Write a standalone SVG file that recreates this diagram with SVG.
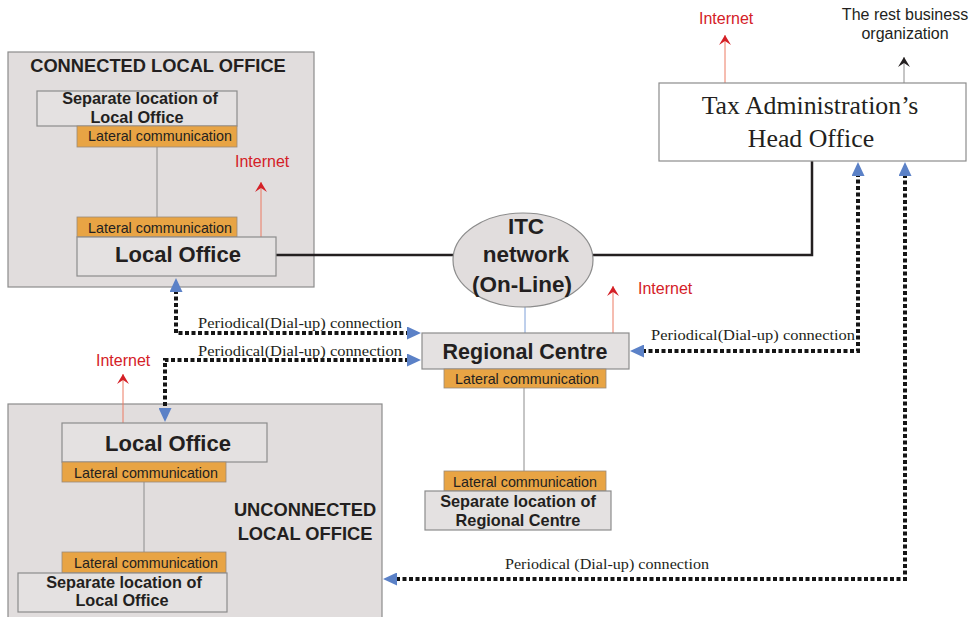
<svg xmlns="http://www.w3.org/2000/svg" width="975" height="617" viewBox="0 0 975 617">
<style>
.bg{fill:#e1dddd;stroke:#8c8c8c;stroke-width:1.2}
.box{fill:#e4e1e1;stroke:#8c8c8c;stroke-width:1.2}
.wbox{fill:#ffffff;stroke:#8c8c8c;stroke-width:1.2}
.lat{fill:#e8a444;stroke:#9a8a7a;stroke-width:0.8}
.latt{font-family:"Liberation Sans",Arial,sans-serif;font-size:14.3px;fill:#231f20;text-anchor:middle}
.bt{font-family:"Liberation Sans",Arial,sans-serif;font-weight:bold;fill:#231f20;text-anchor:middle}
.red{font-family:"Liberation Sans",Arial,sans-serif;font-size:16px;fill:#d42027}
.ser{font-family:"Liberation Serif","Times New Roman",serif;fill:#231f20}
.dash{fill:none;stroke:#151515;stroke-width:4;stroke-dasharray:4 2.5;marker-start:url(#blue);marker-end:url(#blue)}
.rl{fill:none;stroke:#ec7a62;stroke-width:1;marker-end:url(#redarr)}
.gl{fill:none;stroke:#8c8c8c;stroke-width:1}
.solid{fill:none;stroke:#231f20;stroke-width:2.5}
</style>
<defs>
<marker id="blue" viewBox="0 0 14 13" markerWidth="14" markerHeight="13" refX="2" refY="6.5" orient="auto-start-reverse" markerUnits="userSpaceOnUse">
<path d="M0,0 L14,6.5 L0,13 z" fill="#5b81c7"/>
</marker>
<marker id="redarr" viewBox="0 0 10 12" markerWidth="10" markerHeight="12" refX="10" refY="6" orient="auto" markerUnits="userSpaceOnUse">
<path d="M10,6 L0,0 L4,6 L0,12 z" fill="#d42027"/>
</marker>
<marker id="blkarr" viewBox="0 0 10 12" markerWidth="10" markerHeight="12" refX="10" refY="6" orient="auto" markerUnits="userSpaceOnUse">
<path d="M10,6 L0,0 L4,6 L0,12 z" fill="#231f20"/>
</marker>
</defs>

<g id="connected-group">
<rect class="bg" x="8" y="52" width="306" height="235"/>
<text class="bt" x="158" y="72" font-size="18.3">CONNECTED LOCAL OFFICE</text>
</g>

<g id="unconnected-group">
<rect class="bg" x="8" y="404" width="374" height="220"/>
<text class="bt" x="305" y="516" font-size="18.3">UNCONNECTED</text>
<text class="bt" x="305" y="540" font-size="18.3">LOCAL OFFICE</text>
</g>

<g id="connectors">
<line class="gl" x1="157" y1="147" x2="157" y2="217"/>
<line class="gl" x1="144" y1="482" x2="144" y2="552"/>
<line class="gl" x1="524" y1="388" x2="524" y2="471"/>
<line x1="525" y1="307" x2="525" y2="333" stroke="#7fa0d8" stroke-width="1"/>
<path class="solid" d="M276,255 H454"/>
<path class="solid" d="M592,255 H812 V161"/>
<path class="rl" d="M261,237 V182"/>
<path class="rl" d="M123,423 V374"/>
<path class="rl" d="M613,333 V286"/>
<path class="rl" d="M725,83 V35"/>
<path d="M904,83 V57" fill="none" stroke="#8c8c8c" stroke-width="1" marker-end="url(#blkarr)"/>
<path class="dash" d="M176,290 V333 H409"/>
<path class="dash" d="M409,360 H165 V410"/>
<path class="dash" d="M642,351 H858 V174"/>
<path class="dash" d="M905,174 V579 H395"/>
<text class="ser" x="198" y="328" font-size="15.5" textLength="204" lengthAdjust="spacingAndGlyphs">Periodical(Dial-up) connection</text>
<text class="ser" x="198" y="356" font-size="15.5" textLength="204" lengthAdjust="spacingAndGlyphs">Periodical(Dial-up) connection</text>
<text class="ser" x="651" y="340" font-size="15.5" textLength="204" lengthAdjust="spacingAndGlyphs">Periodical(Dial-up) connection</text>
<text class="ser" x="505" y="569" font-size="15.5" textLength="204" lengthAdjust="spacingAndGlyphs">Periodical (Dial-up) connection</text>
</g>

<g id="sep-local-office-1">
<rect class="box" x="37" y="91" width="200" height="35"/>
<text class="bt" x="140" y="104" font-size="16.3">Separate location of</text>
<text class="bt" x="137" y="123" font-size="16.3">Local Office</text>
<rect class="lat" x="77" y="126" width="160" height="21"/>
<text class="latt" x="160" y="141">Lateral communication</text>
</g>

<g id="local-office-1">
<rect class="lat" x="77" y="217" width="160" height="20"/>
<text class="latt" x="160" y="233">Lateral communication</text>
<rect class="box" x="77" y="237" width="199" height="39"/>
<text class="bt" x="178" y="262" font-size="22">Local Office</text>
</g>

<g id="internet-1">
<text class="red" x="235" y="167">Internet</text>
</g>

<g id="itc-network">
<ellipse cx="523" cy="260" rx="70" ry="47" fill="#e1dddd" stroke="#8c8c8c" stroke-width="1.2"/>
<text class="bt" x="526" y="234" font-size="22.5">ITC</text>
<text class="bt" x="526" y="262" font-size="22.5">network</text>
<text class="bt" x="522" y="292" font-size="22.5">(On-Line)</text>
</g>

<g id="head-office">
<rect class="wbox" x="659" y="83" width="307" height="78"/>
<text class="ser" x="810" y="114" font-size="25.8" text-anchor="middle">Tax Administration’s</text>
<text class="ser" x="811" y="147" font-size="25.8" text-anchor="middle">Head Office</text>
</g>

<g id="internet-head">
<text class="red" x="699" y="24">Internet</text>
</g>

<g id="rest-business">
<text x="905" y="20" font-family="Liberation Sans, Arial, sans-serif" font-size="16" fill="#231f20" text-anchor="middle">The rest business</text>
<text x="905" y="39" font-family="Liberation Sans, Arial, sans-serif" font-size="16" fill="#231f20" text-anchor="middle">organization</text>
</g>

<g id="regional-centre">
<rect class="box" x="422" y="333" width="207" height="36"/>
<text class="bt" x="525" y="359" font-size="21.5">Regional Centre</text>
<rect class="lat" x="444" y="369" width="162" height="19"/>
<text class="latt" x="527" y="384">Lateral communication</text>
</g>

<g id="internet-regional">
<text class="red" x="638" y="294">Internet</text>
</g>

<g id="sep-regional">
<rect class="lat" x="444" y="471" width="162" height="20"/>
<text class="latt" x="525" y="487">Lateral communication</text>
<rect class="box" x="425" y="491" width="186" height="39"/>
<text class="bt" x="518" y="507" font-size="16.3">Separate location of</text>
<text class="bt" x="518" y="526" font-size="16.3">Regional Centre</text>
</g>

<g id="local-office-2">
<rect class="box" x="62" y="423" width="205" height="39"/>
<text class="bt" x="168" y="451" font-size="22">Local Office</text>
<rect class="lat" x="62" y="462" width="164" height="20"/>
<text class="latt" x="146" y="478">Lateral communication</text>
</g>

<g id="internet-2">
<text class="red" x="96" y="366">Internet</text>
</g>

<g id="sep-local-office-2">
<rect class="lat" x="62" y="552" width="164" height="21"/>
<text class="latt" x="146" y="568">Lateral communication</text>
<rect class="box" x="18" y="573" width="209" height="39"/>
<text class="bt" x="124" y="588" font-size="16.3">Separate location of</text>
<text class="bt" x="122" y="606" font-size="16.3">Local Office</text>
</g>
</svg>
